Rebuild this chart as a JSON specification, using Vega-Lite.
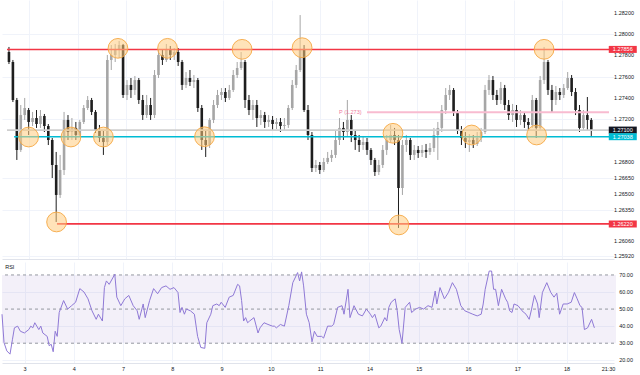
{
  "$schema": "https://vega.github.io/schema/vega-lite/v6.json",
  "padding": 0,
  "background": "#ffffff",
  "spacing": 2,
  "config": {
    "view": {"stroke": null},
    "axis": {"labelFont": "Liberation Sans", "labelFontSize": 5.5, "labelColor": "#131722", "gridColor": "#f0f3fa", "gridWidth": 1, "domain": false, "ticks": false, "title": null, "labelOverlap": false},
    "text": {"font": "Liberation Sans"}
  },
  "datasets": {
    "candles": [
      {"t":0,"o":1.27832,"h":1.27879,"l":1.27719,"c":1.27738},
      {"t":1,"o":1.27738,"h":1.27757,"l":1.27363,"c":1.27382},
      {"t":2,"o":1.27382,"h":1.27401,"l":1.26820,"c":1.26914},
      {"t":3,"o":1.26914,"h":1.27335,"l":1.26895,"c":1.27241},
      {"t":4,"o":1.27241,"h":1.27401,"l":1.27195,"c":1.27307},
      {"t":5,"o":1.27288,"h":1.27307,"l":1.27054,"c":1.27176},
      {"t":6,"o":1.27176,"h":1.27270,"l":1.27138,"c":1.27213},
      {"t":7,"o":1.27213,"h":1.27288,"l":1.27120,"c":1.27157},
      {"t":8,"o":1.27157,"h":1.27288,"l":1.27120,"c":1.27232},
      {"t":9,"o":1.27232,"h":1.27251,"l":1.27082,"c":1.27138},
      {"t":10,"o":1.27138,"h":1.27157,"l":1.26960,"c":1.27007},
      {"t":11,"o":1.27007,"h":1.27026,"l":1.26651,"c":1.26773},
      {"t":12,"o":1.26773,"h":1.26895,"l":1.26239,"c":1.26492},
      {"t":13,"o":1.26492,"h":1.26867,"l":1.26464,"c":1.26726},
      {"t":14,"o":1.26726,"h":1.27270,"l":1.26679,"c":1.27195},
      {"t":15,"o":1.27195,"h":1.27241,"l":1.27007,"c":1.27082},
      {"t":16,"o":1.27082,"h":1.27213,"l":1.27007,"c":1.27120},
      {"t":17,"o":1.27120,"h":1.27176,"l":1.27007,"c":1.27054},
      {"t":18,"o":1.27054,"h":1.27195,"l":1.27035,"c":1.27176},
      {"t":19,"o":1.27176,"h":1.27335,"l":1.27157,"c":1.27307},
      {"t":20,"o":1.27307,"h":1.27419,"l":1.27288,"c":1.27382},
      {"t":21,"o":1.27382,"h":1.27401,"l":1.27241,"c":1.27270},
      {"t":22,"o":1.27270,"h":1.27288,"l":1.27073,"c":1.27101},
      {"t":23,"o":1.27101,"h":1.27148,"l":1.26988,"c":1.27026},
      {"t":24,"o":1.27026,"h":1.27101,"l":1.26867,"c":1.26988},
      {"t":25,"o":1.26988,"h":1.27804,"l":1.26960,"c":1.27757},
      {"t":26,"o":1.27757,"h":1.27897,"l":1.27663,"c":1.27804},
      {"t":27,"o":1.27804,"h":1.27907,"l":1.27738,"c":1.27851},
      {"t":28,"o":1.27851,"h":1.27935,"l":1.27776,"c":1.27897},
      {"t":29,"o":1.27897,"h":1.27907,"l":1.27401,"c":1.27429},
      {"t":30,"o":1.27429,"h":1.27569,"l":1.27382,"c":1.27523},
      {"t":31,"o":1.27523,"h":1.27588,"l":1.27401,"c":1.27476},
      {"t":32,"o":1.27476,"h":1.27607,"l":1.27429,"c":1.27569},
      {"t":33,"o":1.27569,"h":1.27588,"l":1.27345,"c":1.27382},
      {"t":34,"o":1.27382,"h":1.27429,"l":1.27195,"c":1.27241},
      {"t":35,"o":1.27241,"h":1.27429,"l":1.27213,"c":1.27335},
      {"t":36,"o":1.27335,"h":1.27401,"l":1.27195,"c":1.27241},
      {"t":37,"o":1.27241,"h":1.27663,"l":1.27213,"c":1.27616},
      {"t":38,"o":1.27616,"h":1.27851,"l":1.27588,"c":1.27804},
      {"t":39,"o":1.27804,"h":1.27851,"l":1.27710,"c":1.27757},
      {"t":40,"o":1.27757,"h":1.27907,"l":1.27738,"c":1.27851},
      {"t":41,"o":1.27851,"h":1.27888,"l":1.27757,"c":1.27804},
      {"t":42,"o":1.27804,"h":1.27869,"l":1.27757,"c":1.27832},
      {"t":43,"o":1.27832,"h":1.27869,"l":1.27701,"c":1.27738},
      {"t":44,"o":1.27738,"h":1.27757,"l":1.27476,"c":1.27523},
      {"t":45,"o":1.27523,"h":1.27644,"l":1.27494,"c":1.27588},
      {"t":46,"o":1.27588,"h":1.27663,"l":1.27513,"c":1.27551},
      {"t":47,"o":1.27551,"h":1.27616,"l":1.27494,"c":1.27569},
      {"t":48,"o":1.27569,"h":1.27588,"l":1.27270,"c":1.27307},
      {"t":49,"o":1.27307,"h":1.27335,"l":1.26914,"c":1.27007},
      {"t":50,"o":1.27007,"h":1.27101,"l":1.26848,"c":1.26960},
      {"t":51,"o":1.26960,"h":1.27213,"l":1.26932,"c":1.27195},
      {"t":52,"o":1.27195,"h":1.27382,"l":1.27166,"c":1.27335},
      {"t":53,"o":1.27335,"h":1.27476,"l":1.27307,"c":1.27429},
      {"t":54,"o":1.27429,"h":1.27494,"l":1.27382,"c":1.27457},
      {"t":55,"o":1.27457,"h":1.27494,"l":1.27363,"c":1.27401},
      {"t":56,"o":1.27401,"h":1.27523,"l":1.27382,"c":1.27476},
      {"t":57,"o":1.27476,"h":1.27663,"l":1.27457,"c":1.27616},
      {"t":58,"o":1.27616,"h":1.27738,"l":1.27588,"c":1.27682},
      {"t":59,"o":1.27682,"h":1.27832,"l":1.27663,"c":1.27738},
      {"t":60,"o":1.27738,"h":1.27757,"l":1.27307,"c":1.27382},
      {"t":61,"o":1.27382,"h":1.27429,"l":1.27241,"c":1.27288},
      {"t":62,"o":1.27288,"h":1.27382,"l":1.27195,"c":1.27335},
      {"t":63,"o":1.27335,"h":1.27382,"l":1.27129,"c":1.27213},
      {"t":64,"o":1.27213,"h":1.27288,"l":1.27148,"c":1.27241},
      {"t":65,"o":1.27241,"h":1.27270,"l":1.27120,"c":1.27176},
      {"t":66,"o":1.27176,"h":1.27241,"l":1.27129,"c":1.27195},
      {"t":67,"o":1.27195,"h":1.27232,"l":1.27101,"c":1.27157},
      {"t":68,"o":1.27157,"h":1.27213,"l":1.27110,"c":1.27176},
      {"t":69,"o":1.27176,"h":1.27213,"l":1.27082,"c":1.27138},
      {"t":70,"o":1.27138,"h":1.27213,"l":1.27101,"c":1.27148},
      {"t":71,"o":1.27148,"h":1.27335,"l":1.27120,"c":1.27307},
      {"t":72,"o":1.27307,"h":1.27569,"l":1.27288,"c":1.27523},
      {"t":73,"o":1.27523,"h":1.27710,"l":1.27494,"c":1.27663},
      {"t":74,"o":1.27663,"h":1.28178,"l":1.27644,"c":1.27851},
      {"t":75,"o":1.27851,"h":1.27897,"l":1.27270,"c":1.27288},
      {"t":76,"o":1.27288,"h":1.27335,"l":1.27007,"c":1.27054},
      {"t":77,"o":1.27054,"h":1.27082,"l":1.26707,"c":1.26745},
      {"t":78,"o":1.26745,"h":1.26820,"l":1.26707,"c":1.26773},
      {"t":79,"o":1.26773,"h":1.26801,"l":1.26689,"c":1.26726},
      {"t":80,"o":1.26726,"h":1.26839,"l":1.26707,"c":1.26801},
      {"t":81,"o":1.26801,"h":1.26895,"l":1.26782,"c":1.26839},
      {"t":82,"o":1.26839,"h":1.26914,"l":1.26801,"c":1.26867},
      {"t":83,"o":1.26867,"h":1.27101,"l":1.26839,"c":1.27007},
      {"t":84,"o":1.27007,"h":1.27213,"l":1.26960,"c":1.27120},
      {"t":85,"o":1.27120,"h":1.27176,"l":1.27007,"c":1.27082},
      {"t":86,"o":1.27082,"h":1.27382,"l":1.27045,"c":1.27195},
      {"t":87,"o":1.27195,"h":1.27241,"l":1.26988,"c":1.27054},
      {"t":88,"o":1.27054,"h":1.27101,"l":1.26914,"c":1.27007},
      {"t":89,"o":1.27007,"h":1.27054,"l":1.26895,"c":1.26960},
      {"t":90,"o":1.26960,"h":1.27045,"l":1.26914,"c":1.26988},
      {"t":91,"o":1.26988,"h":1.27026,"l":1.26867,"c":1.26914},
      {"t":92,"o":1.26914,"h":1.26932,"l":1.26773,"c":1.26820},
      {"t":93,"o":1.26820,"h":1.26839,"l":1.26670,"c":1.26707},
      {"t":94,"o":1.26707,"h":1.26820,"l":1.26679,"c":1.26773},
      {"t":95,"o":1.26773,"h":1.26960,"l":1.26745,"c":1.26914},
      {"t":96,"o":1.26914,"h":1.27054,"l":1.26867,"c":1.27007},
      {"t":97,"o":1.27007,"h":1.27148,"l":1.26988,"c":1.27054},
      {"t":98,"o":1.27054,"h":1.27120,"l":1.26960,"c":1.27007},
      {"t":99,"o":1.27007,"h":1.27054,"l":1.26183,"c":1.26557},
      {"t":100,"o":1.26557,"h":1.27007,"l":1.26492,"c":1.26960},
      {"t":101,"o":1.26960,"h":1.27054,"l":1.26895,"c":1.27007},
      {"t":102,"o":1.27007,"h":1.27026,"l":1.26820,"c":1.26867},
      {"t":103,"o":1.26867,"h":1.26960,"l":1.26820,"c":1.26914},
      {"t":104,"o":1.26914,"h":1.26951,"l":1.26839,"c":1.26885},
      {"t":105,"o":1.26885,"h":1.26960,"l":1.26848,"c":1.26914},
      {"t":106,"o":1.26914,"h":1.26970,"l":1.26839,"c":1.26895},
      {"t":107,"o":1.26895,"h":1.26979,"l":1.26867,"c":1.26932},
      {"t":108,"o":1.26932,"h":1.27120,"l":1.26895,"c":1.27054},
      {"t":109,"o":1.27054,"h":1.27176,"l":1.26820,"c":1.27120},
      {"t":110,"o":1.27120,"h":1.27335,"l":1.27082,"c":1.27288},
      {"t":111,"o":1.27288,"h":1.27494,"l":1.27251,"c":1.27429},
      {"t":112,"o":1.27429,"h":1.27523,"l":1.27382,"c":1.27476},
      {"t":113,"o":1.27476,"h":1.27494,"l":1.27232,"c":1.27260},
      {"t":114,"o":1.27260,"h":1.27288,"l":1.27063,"c":1.27101},
      {"t":115,"o":1.27101,"h":1.27138,"l":1.26960,"c":1.27026},
      {"t":116,"o":1.27026,"h":1.27082,"l":1.26932,"c":1.26988},
      {"t":117,"o":1.26988,"h":1.27063,"l":1.26895,"c":1.27007},
      {"t":118,"o":1.27007,"h":1.27054,"l":1.26932,"c":1.26970},
      {"t":119,"o":1.26970,"h":1.27082,"l":1.26951,"c":1.27026},
      {"t":120,"o":1.27026,"h":1.27120,"l":1.26988,"c":1.27082},
      {"t":121,"o":1.27082,"h":1.27523,"l":1.27063,"c":1.27476},
      {"t":122,"o":1.27476,"h":1.27616,"l":1.27429,"c":1.27569},
      {"t":123,"o":1.27569,"h":1.27607,"l":1.27382,"c":1.27429},
      {"t":124,"o":1.27429,"h":1.27476,"l":1.27335,"c":1.27382},
      {"t":125,"o":1.27382,"h":1.27551,"l":1.27345,"c":1.27494},
      {"t":126,"o":1.27494,"h":1.27523,"l":1.27288,"c":1.27335},
      {"t":127,"o":1.27335,"h":1.27382,"l":1.27195,"c":1.27241},
      {"t":128,"o":1.27241,"h":1.27345,"l":1.27176,"c":1.27288},
      {"t":129,"o":1.27288,"h":1.27335,"l":1.27129,"c":1.27195},
      {"t":130,"o":1.27195,"h":1.27288,"l":1.27148,"c":1.27241},
      {"t":131,"o":1.27241,"h":1.27270,"l":1.27120,"c":1.27176},
      {"t":132,"o":1.27176,"h":1.27213,"l":1.27101,"c":1.27148},
      {"t":133,"o":1.27148,"h":1.27429,"l":1.27120,"c":1.27382},
      {"t":134,"o":1.27382,"h":1.27401,"l":1.27026,"c":1.27120},
      {"t":135,"o":1.27120,"h":1.27607,"l":1.27101,"c":1.27569},
      {"t":136,"o":1.27569,"h":1.27879,"l":1.27532,"c":1.27738},
      {"t":137,"o":1.27738,"h":1.27757,"l":1.27429,"c":1.27476},
      {"t":138,"o":1.27476,"h":1.27523,"l":1.27270,"c":1.27382},
      {"t":139,"o":1.27382,"h":1.27513,"l":1.27335,"c":1.27457},
      {"t":140,"o":1.27457,"h":1.27494,"l":1.27382,"c":1.27429},
      {"t":141,"o":1.27429,"h":1.27532,"l":1.27401,"c":1.27494},
      {"t":142,"o":1.27494,"h":1.27644,"l":1.27476,"c":1.27588},
      {"t":143,"o":1.27588,"h":1.27616,"l":1.27419,"c":1.27457},
      {"t":144,"o":1.27457,"h":1.27494,"l":1.27241,"c":1.27288},
      {"t":145,"o":1.27288,"h":1.27335,"l":1.27082,"c":1.27120},
      {"t":146,"o":1.27120,"h":1.27288,"l":1.27101,"c":1.27241},
      {"t":147,"o":1.27241,"h":1.27410,"l":1.27101,"c":1.27195},
      {"t":148,"o":1.27195,"h":1.27213,"l":1.27045,"c":1.27101}
    ],
    "levels": [
      {"kind":"last","price":1.27100,"from":-0.5,"to":152.5},
      {"kind":"pivot","price":1.27267,"from":91,"to":152.5},
      {"kind":"res","price":1.27856,"from":-0.5,"to":152.5},
      {"kind":"sup","price":1.27038,"from":1.3,"to":152.5},
      {"kind":"low","price":1.26220,"from":12.2,"to":152.5}
    ],
    "priceTicks": [
      {"price":1.2592},{"price":1.2606},{"price":1.2635},{"price":1.2650},{"price":1.2665},{"price":1.2680},{"price":1.2720},{"price":1.2740},{"price":1.2760},{"price":1.2780},{"price":1.2800},{"price":1.2820}
    ],
    "rsiTicks": [
      {"v":20},{"v":30},{"v":40},{"v":50},{"v":60},{"v":70}
    ],
    "tags": [
      {"kind":"res","price":1.27856,"label":"1.27856"},
      {"kind":"last","price":1.27100,"label":"1.27100"},
      {"kind":"sup","price":1.27038,"label":"1.27038"},
      {"kind":"low","price":1.26220,"label":"1.26220"}
    ],
    "notes": [
      {"t":86.75,"price":1.27267,"label":"P (1.273)"}
    ],
    "circles": [
      {"t":5,"price":1.27035},
      {"t":15.75,"price":1.27035},
      {"t":24,"price":1.27035},
      {"t":12.1,"price":1.26239},
      {"t":27.7,"price":1.27866},
      {"t":40.3,"price":1.27866},
      {"t":59.25,"price":1.27857},
      {"t":74.5,"price":1.27872},
      {"t":49.7,"price":1.27038},
      {"t":97.6,"price":1.27070},
      {"t":99.1,"price":1.26211},
      {"t":117.6,"price":1.27054},
      {"t":136,"price":1.27857},
      {"t":134.1,"price":1.27054}
    ],
    "rsi": [
      {"t":-0.5,"v":47},{"t":0.0,"v":30.4},{"t":0.7,"v":25.5},{"t":1.5,"v":23.6},{"t":2.1,"v":32},{"t":2.6,"v":39},{"t":3.4,"v":40},{"t":4.1,"v":37},{"t":5.1,"v":36},{"t":6.2,"v":38},{"t":6.7,"v":40},{"t":7.2,"v":39},{"t":7.7,"v":42},{"t":8.2,"v":40},{"t":8.7,"v":38},{"t":9.2,"v":40},{"t":9.7,"v":36},{"t":10.8,"v":34},{"t":11.3,"v":28.5},{"t":11.8,"v":29.4},{"t":12.3,"v":25},{"t":12.8,"v":37},{"t":13.3,"v":34},{"t":13.8,"v":48},{"t":14.9,"v":55},{"t":15.9,"v":50},{"t":16.9,"v":52},{"t":17.9,"v":54},{"t":18.95,"v":62},{"t":20.0,"v":60},{"t":21.0,"v":56},{"t":22.0,"v":49},{"t":23.05,"v":44},{"t":23.6,"v":47},{"t":24.6,"v":43},{"t":25.1,"v":62.6},{"t":25.6,"v":66.5},{"t":26.3,"v":64.5},{"t":27.7,"v":70.4},{"t":28.2,"v":57},{"t":29.2,"v":52},{"t":30.2,"v":56},{"t":31.2,"v":58},{"t":32.3,"v":52},{"t":33.3,"v":49},{"t":33.8,"v":44},{"t":34.8,"v":53},{"t":35.3,"v":45},{"t":36.4,"v":55},{"t":37.4,"v":62},{"t":38.4,"v":59},{"t":39.4,"v":62.6},{"t":40.5,"v":63.6},{"t":41.5,"v":61.6},{"t":42.5,"v":62.6},{"t":43.5,"v":59.7},{"t":44.0,"v":48},{"t":44.5,"v":51},{"t":45.1,"v":47},{"t":45.6,"v":50},{"t":46.6,"v":49},{"t":47.6,"v":47},{"t":48.4,"v":34},{"t":49.2,"v":27.5},{"t":50.2,"v":27},{"t":50.7,"v":42},{"t":51.7,"v":47},{"t":52.2,"v":52},{"t":53.2,"v":53},{"t":53.8,"v":52},{"t":54.3,"v":54},{"t":55.3,"v":51},{"t":56.3,"v":57},{"t":57.3,"v":58},{"t":58.4,"v":64.5},{"t":58.9,"v":63.6},{"t":59.4,"v":55},{"t":59.9,"v":43},{"t":60.4,"v":45},{"t":60.9,"v":42},{"t":61.4,"v":43},{"t":62.5,"v":45},{"t":63.5,"v":36},{"t":64.0,"v":39},{"t":65.0,"v":42},{"t":66.0,"v":41},{"t":67.1,"v":40},{"t":67.6,"v":40},{"t":68.1,"v":39},{"t":69.1,"v":41},{"t":70.1,"v":40},{"t":71.2,"v":52},{"t":72.2,"v":65.5},{"t":73.0,"v":69.4},{"t":73.4,"v":71.4},{"t":73.9,"v":66.5},{"t":74.4,"v":71.8},{"t":74.9,"v":63.6},{"t":75.6,"v":47},{"t":76.3,"v":42},{"t":77.0,"v":30.8},{"t":77.6,"v":37},{"t":78.3,"v":34},{"t":79.4,"v":34},{"t":79.9,"v":33},{"t":80.9,"v":40},{"t":81.9,"v":40},{"t":82.4,"v":41},{"t":83.4,"v":51},{"t":84.5,"v":52},{"t":85.0,"v":47},{"t":86.0,"v":61.6},{"t":86.5,"v":45},{"t":87.5,"v":52},{"t":88.6,"v":47},{"t":89.6,"v":46},{"t":90.6,"v":50},{"t":91.6,"v":47},{"t":92.1,"v":45},{"t":92.7,"v":47},{"t":93.7,"v":39},{"t":94.2,"v":40},{"t":95.2,"v":45},{"t":95.7,"v":43},{"t":96.2,"v":51},{"t":96.8,"v":54},{"t":97.8,"v":56},{"t":98.3,"v":49},{"t":98.8,"v":38},{"t":99.5,"v":30},{"t":100.3,"v":51},{"t":101.4,"v":54},{"t":101.9,"v":48},{"t":102.9,"v":50},{"t":103.9,"v":51},{"t":104.9,"v":50},{"t":106.0,"v":52},{"t":107.0,"v":51},{"t":107.8,"v":60.6},{"t":108.2,"v":53},{"t":109.0,"v":62.6},{"t":110.1,"v":56},{"t":111.1,"v":59.7},{"t":112.1,"v":65.5},{"t":113.1,"v":61.6},{"t":114.2,"v":52},{"t":115.2,"v":49},{"t":116.2,"v":48},{"t":117.2,"v":47},{"t":118.3,"v":46},{"t":119.3,"v":47},{"t":119.8,"v":53},{"t":120.3,"v":61.6},{"t":121.3,"v":72.3},{"t":121.9,"v":72.3},{"t":122.4,"v":61.6},{"t":122.9,"v":61.6},{"t":123.6,"v":52},{"t":124.4,"v":61.6},{"t":125.4,"v":56},{"t":125.9,"v":54},{"t":126.4,"v":49},{"t":127.0,"v":48},{"t":127.5,"v":53},{"t":128.5,"v":52},{"t":129.5,"v":49},{"t":130.5,"v":47},{"t":131.3,"v":44},{"t":131.9,"v":50},{"t":132.6,"v":58},{"t":133.4,"v":53},{"t":133.8,"v":45},{"t":134.6,"v":59.7},{"t":135.7,"v":65.5},{"t":136.7,"v":59.7},{"t":137.5,"v":57},{"t":138.2,"v":59.3},{"t":138.9,"v":47},{"t":139.8,"v":53},{"t":140.8,"v":53},{"t":141.8,"v":54},{"t":142.6,"v":59.7},{"t":143.3,"v":56},{"t":144.0,"v":52},{"t":144.5,"v":51},{"t":145.1,"v":38},{"t":145.9,"v":39},{"t":146.9,"v":44},{"t":147.6,"v":39}
    ],
    "band": [{"lo":30,"hi":70,"from":-0.5,"to":153}],
    "rsiLevels": [{"level":70},{"level":50},{"level":30}],
    "paneTitle": [{"name":"RSI","t":0.3,"v":74.8}]
  },
  "vconcat": [
    {
      "width": 612,
      "height": 259,
      "layer": [
        {
          "data": {"name": "candles"},
          "mark": {"type": "rule", "strokeWidth": 1},
          "encoding": {
            "x": {"field": "t", "type": "quantitative", "scale": {"domain": [-0.5, 152.5], "nice": false, "zero": false},
              "axis": {"values": [5.125,17.445,29.765,42.085,54.405,66.725,79.045,91.365,103.685,116.005,128.325,140.645], "labels": false, "grid": true, "domain": true, "domainColor": "#e0e3eb"}},
            "y": {"field": "l", "type": "quantitative", "scale": {"domain": [1.25892, 1.28319], "nice": false, "zero": false},
              "axis": {"orient": "right", "values": [1.2592,1.2606,1.2635,1.265,1.2665,1.268,1.272,1.274,1.276,1.278,1.28,1.282], "labels": false, "grid": true}},
            "y2": {"field": "h"},
            "color": {"condition": {"test": "datum.c > datum.o", "value": "#a6a6a6"}, "value": "#1e1e1e"}
          }
        },
        {
          "data": {"name": "candles"},
          "mark": {"type": "bar", "width": 2.6},
          "encoding": {
            "x": {"field": "t", "type": "quantitative"},
            "y": {"field": "o", "type": "quantitative"},
            "y2": {"field": "c"},
            "color": {"condition": {"test": "datum.c > datum.o", "value": "#a6a6a6"}, "value": "#1e1e1e"}
          }
        },
        {
          "data": {"name": "levels"},
          "mark": {"type": "rule"},
          "encoding": {
            "x": {"field": "from", "type": "quantitative"},
            "x2": {"field": "to"},
            "y": {"field": "price", "type": "quantitative"},
            "color": {"field": "kind", "type": "nominal", "legend": null, "scale": {"domain": ["res","sup","low","last","pivot"], "range": ["#f23645","#00bcd4","#f23645","#cfcfcf","#f8bbd0"]}},
            "size": {"field": "kind", "type": "nominal", "legend": null, "scale": {"domain": ["res","sup","low","last","pivot"], "range": [1.5, 2, 1.5, 1, 1.5]}}
          }
        },
        {
          "data": {"name": "circles"},
          "mark": {"type": "point", "shape": "circle", "filled": true, "size": 390, "fill": "#ffcc80", "fillOpacity": 0.55, "stroke": "#f5a742", "strokeWidth": 1, "strokeOpacity": 0.9, "opacity": 1},
          "encoding": {
            "x": {"field": "t", "type": "quantitative"},
            "y": {"field": "price", "type": "quantitative"}
          }
        },
        {
          "data": {"name": "notes"},
          "mark": {"type": "text", "fontSize": 5.5, "color": "#ef7aa0", "align": "center", "baseline": "middle"},
          "encoding": {
            "x": {"field": "t", "type": "quantitative"},
            "y": {"field": "price", "type": "quantitative"},
            "text": {"field": "label"}
          }
        },
        {
          "data": {"name": "priceTicks"},
          "mark": {"type": "text", "fontSize": 5.5, "color": "#131722", "align": "left", "baseline": "middle"},
          "encoding": {
            "x": {"datum": 153.8, "type": "quantitative"},
            "y": {"field": "price", "type": "quantitative"},
            "text": {"field": "price", "type": "quantitative", "format": ".5f"}
          }
        },
        {
          "data": {"name": "tags"},
          "mark": {"type": "tick", "orient": "horizontal", "thickness": 7, "size": 28, "opacity": 1},
          "encoding": {
            "x": {"datum": 156, "type": "quantitative"},
            "y": {"field": "price", "type": "quantitative"},
            "color": {"field": "kind", "type": "nominal", "legend": null, "scale": {"domain": ["res","sup","low","last"], "range": ["#f23645","#00bcd4","#f23645","#131722"]}}
          }
        },
        {
          "data": {"name": "tags"},
          "mark": {"type": "text", "fontSize": 5.5, "color": "#ffffff", "align": "center", "baseline": "middle"},
          "encoding": {
            "x": {"datum": 156, "type": "quantitative"},
            "y": {"field": "price", "type": "quantitative"},
            "text": {"field": "label"}
          }
        }
      ],
      "resolve": {"scale": {"color": "independent", "size": "independent"}}
    },
    {
      "width": 612,
      "height": 101,
      "layer": [
        {
          "data": {"name": "band"},
          "mark": {"type": "rect", "color": "#7e57c2", "opacity": 0.09},
          "encoding": {
            "x": {"field": "from", "type": "quantitative", "scale": {"domain": [-0.5, 152.5], "nice": false, "zero": false},
              "axis": {"values": [5.125,17.445,29.765,42.085,54.405,66.725,79.045,91.365,103.685,116.005,128.325,140.645,151], "labelExpr": "['3','4','7','8','9','10','11','14','15','16','17','18','21:30'][round((datum.value-5.125)/12.32)]", "labelPadding": 3, "grid": true, "gridColor": {"condition": {"test": "datum.value > 150", "value": "transparent"}, "value": "#f0f3fa"}, "domain": true, "domainColor": "#e0e3eb", "labelFontSize": 5.5, "labelOverlap": false}},
            "x2": {"field": "to"},
            "y": {"field": "lo", "type": "quantitative", "scale": {"domain": [18.4, 77.6], "nice": false, "zero": false},
              "axis": {"orient": "right", "values": [20,30,40,50,60,70], "labels": false, "grid": true}},
            "y2": {"field": "hi"}
          }
        },
        {
          "data": {"name": "rsiLevels"},
          "mark": {"type": "rule", "color": "#9598a1", "strokeDash": [3, 3], "strokeWidth": 1},
          "encoding": {
            "y": {"field": "level", "type": "quantitative"}
          }
        },
        {
          "data": {"name": "rsi"},
          "mark": {"type": "line", "color": "#8f79d6", "strokeWidth": 1},
          "encoding": {
            "x": {"field": "t", "type": "quantitative"},
            "y": {"field": "v", "type": "quantitative"}
          }
        },
        {
          "data": {"name": "rsiTicks"},
          "mark": {"type": "text", "fontSize": 5.5, "color": "#131722", "align": "left", "baseline": "middle"},
          "encoding": {
            "x": {"datum": 153.8, "type": "quantitative"},
            "y": {"field": "v", "type": "quantitative"},
            "text": {"field": "v", "type": "quantitative", "format": ".2f"}
          }
        },
        {
          "data": {"name": "paneTitle"},
          "mark": {"type": "text", "fontSize": 5.5, "color": "#131722", "align": "left", "baseline": "middle"},
          "encoding": {
            "x": {"field": "t", "type": "quantitative"},
            "y": {"field": "v", "type": "quantitative"},
            "text": {"field": "name"}
          }
        }
      ]
    }
  ]
}
